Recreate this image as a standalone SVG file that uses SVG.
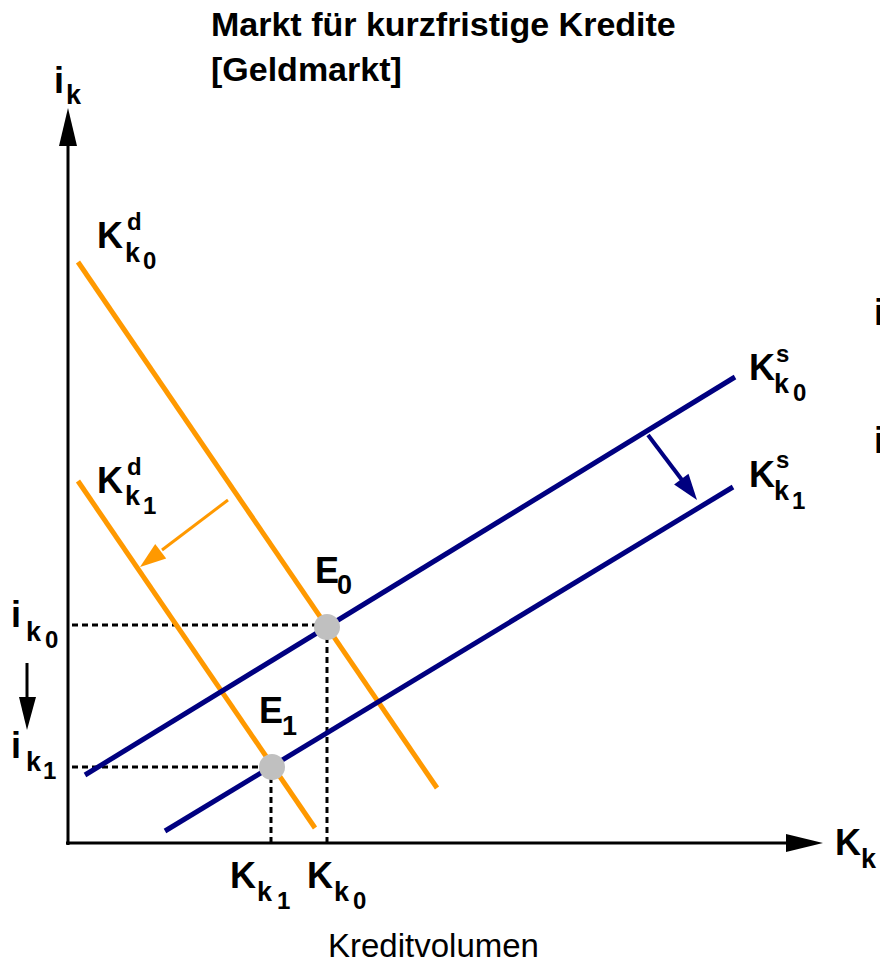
<svg xmlns="http://www.w3.org/2000/svg" width="880" height="964" viewBox="0 0 880 964">
<style>
text{font-family:"Liberation Sans",Arial,sans-serif;font-weight:bold;fill:#000}
.big{font-size:36px}
.sub{font-size:27px}
.dig{font-size:24px}
.sup{font-size:24px}
.title{font-size:34px}
.plain{font-weight:normal;font-size:33px}
.axis{stroke:#000;stroke-width:3;fill:none}
.dash{stroke:#000;stroke-width:3;stroke-dasharray:6 4;fill:none}
.sup-line{stroke:#000080;stroke-width:5;fill:none}
.dem-line{stroke:#FF9900;stroke-width:5;fill:none}
.pt{fill:#C0C0C0}
</style>
<rect width="880" height="964" fill="#fff"/>
<g id="title">
<text class="title" x="211" y="36">Markt für kurzfristige Kredite</text>
<text class="title" x="211" y="81">[Geldmarkt]</text>
</g>
<g id="axes">
<line class="axis" x1="68" y1="845" x2="68" y2="140"/>
<polygon points="68,108 59,146 77,146" fill="#000"/>
<line class="axis" x1="66" y1="843" x2="790" y2="843"/>
<polygon points="823,843 786,834 786,852" fill="#000"/>
<text class="big" x="54" y="93">i</text><text class="sub" x="66" y="104">k</text>
<text class="big" x="835" y="855">K</text><text class="sub" x="861" y="868">k</text>
<text class="plain" x="328" y="957">Kreditvolumen</text>
</g>
<g id="guides">
<line class="dash" x1="72" y1="625" x2="327" y2="625"/>
<line class="dash" x1="72" y1="767" x2="272" y2="767"/>
<line class="dash" x1="327" y1="627" x2="327" y2="843"/>
<line class="dash" x1="271" y1="767" x2="271" y2="843"/>
</g>
<g id="demand0">
<line class="dem-line" x1="78" y1="262" x2="437" y2="788"/>
<text class="big" x="97" y="248">K</text><text class="sup" x="127" y="230">d</text><text class="sub" x="125" y="262">k</text><text class="dig" x="143" y="269">0</text>
</g>
<g id="demand1">
<line class="dem-line" x1="78" y1="481" x2="315" y2="828"/>
<text class="big" x="97" y="493">K</text><text class="sup" x="127" y="475">d</text><text class="sub" x="125" y="505">k</text><text class="dig" x="143" y="514">1</text>
</g>
<g id="supply0">
<line class="sup-line" x1="85" y1="775" x2="735" y2="377"/>
<text class="big" x="749" y="380">K</text><text class="sup" x="776" y="362">s</text><text class="sub" x="774" y="393">k</text><text class="dig" x="793" y="401">0</text>
</g>
<g id="supply1">
<line class="sup-line" x1="165" y1="831" x2="733" y2="487"/>
<text class="big" x="749" y="487">K</text><text class="sup" x="776" y="468">s</text><text class="sub" x="774" y="500">k</text><text class="dig" x="792" y="509">1</text>
</g>
<g id="E0">
<circle class="pt" cx="327" cy="627" r="13"/>
<text class="big" x="315" y="583">E</text><text class="sub" x="337" y="594">0</text>
</g>
<g id="E1">
<circle class="pt" cx="272" cy="767" r="13"/>
<text class="big" x="259" y="723">E</text><text class="sub" x="282" y="735">1</text>
</g>
<g id="ilabels">
<text class="big" x="11" y="627">i</text><text class="sub" x="26" y="641">k</text><text class="dig" x="45" y="648">0</text>
<text class="big" x="11" y="758">i</text><text class="sub" x="26" y="771">k</text><text class="dig" x="43" y="779">1</text>
<text class="big" x="874" y="325">i</text>
<text class="big" x="874" y="453">i</text>
</g>
<g id="xlabels">
<text class="big" x="230" y="888">K</text><text class="sub" x="257" y="901">k</text><text class="dig" x="277" y="909">1</text>
<text class="big" x="307" y="888">K</text><text class="sub" x="334" y="901">k</text><text class="dig" x="353" y="909">0</text>
</g>
<g id="connectors">
<line x1="228" y1="500" x2="162" y2="550" stroke="#FF9900" stroke-width="3"/>
<polygon points="140,567 166.2,558.4 155.2,544" fill="#FF9900"/>
<line x1="648" y1="435" x2="682" y2="480" stroke="#000080" stroke-width="4"/>
<polygon points="697,500 674.1,484.6 688.5,473.8" fill="#000080"/>
<line x1="27" y1="663" x2="27" y2="700" stroke="#000" stroke-width="3"/>
<polygon points="27,730 19,697 36,697" fill="#000"/>
</g>
</svg>
